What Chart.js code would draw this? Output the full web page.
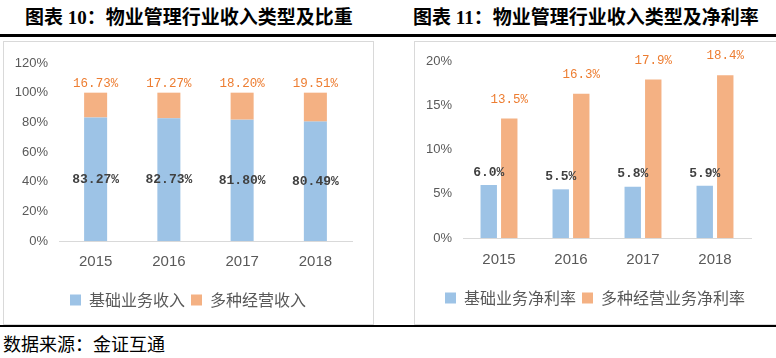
<!DOCTYPE html>
<html><head><meta charset="utf-8">
<script src="https://cdn.jsdelivr.net/npm/chart.js@4.4.0/dist/chart.umd.min.js"></script>
<style>
html,body{margin:0;padding:0;background:#fff;width:776px;height:358px;overflow:hidden;position:relative;}
.t{position:absolute;top:7px;font:bold 19px "Liberation Serif","Noto Sans CJK SC";line-height:22px;white-space:nowrap;color:#000;}
.rule{position:absolute;left:0;width:776px;height:2px;background:#000;}
.box{position:absolute;top:41px;height:284px;border:1px solid #D9D9D9;box-sizing:border-box;}
canvas{position:absolute;}
.src{position:absolute;left:3px;top:332px;font:18px "Noto Sans CJK SC";line-height:22px;color:#000;white-space:nowrap;}
</style></head>
<body>
<div class="t" style="left:25px">图表 10：物业管理行业收入类型及比重</div>
<div class="t" style="left:413px">图表 11：物业管理行业收入类型及净利率</div>
<div class="rule" style="top:34px;height:3px"></div>
<div class="box" style="left:3px;width:371px"></div>
<div class="box" style="left:414px;width:370px"></div>
<div class="rule" style="top:325px"></div>
<canvas id="c1" width="370" height="283" style="left:3px;top:41px"></canvas>
<canvas id="c2" width="362" height="283" style="left:414px;top:41px"></canvas>
<div class="src">数据来源：金证互通</div>
<script>
const years = ['2015', '2016', '2017', '2018'];
const baseShare = [83.27, 82.73, 81.80, 80.49];
const diversShare = [16.73, 17.27, 18.20, 19.51];
const baseMargin = [6.0, 5.5, 5.8, 5.9];
const diversMargin = [13.5, 16.3, 17.9, 18.4];
const shareNames = ['基础业务收入', '多种经营收入'];
const marginNames = ['基础业务净利率', '多种经营业务净利率'];
const shareAxis = [0, 120, 20];
const marginAxis = [0, 20, 5];

const BLUE = '#9DC3E6', ORANGE = '#F4B183', ORANGE_TXT = '#ED7D31', DARK = '#404040', GRAY = '#595959';

const valueLabels = {
  id: 'valueLabels',
  afterDatasetsDraw(chart) {
    const ctx = chart.ctx;
    chart.data.datasets.forEach((ds, i) => {
      const lab = ds.valueLabel; if (!lab) return;
      const meta = chart.getDatasetMeta(i);
      ctx.save();
      ctx.font = lab.font; ctx.fillStyle = lab.color;
      ctx.textAlign = 'center'; ctx.textBaseline = 'middle';
      meta.data.forEach((el, j) => {
        const v = ds.data[j];
        const y = lab.position === 'center' ? (el.y + el.base) / 2 : el.y - lab.offset;
        ctx.fillText(v.toFixed(lab.decimals) + '%', el.x, y);
      });
      ctx.restore();
    });
  }
};

function makeOptions(o) {
  return {
    responsive: false, animation: false, events: [],
    layout: { padding: { top: o.top, bottom: o.bottom, left: 0, right: 0 } },
    plugins: {
      tooltip: { enabled: false },
      legend: {
        position: 'bottom',
        labels: { boxWidth: 11, boxHeight: 11, padding: 6, color: GRAY,
          font: { family: 'Noto Sans CJK SC', size: 16 } }
      }
    },
    scales: {
      x: {
        stacked: o.stacked,
        grid: { display: false, drawTicks: false },
        border: { display: true, color: '#D9D9D9', width: 1 },
        ticks: { color: GRAY, padding: o.xPad, font: { family: 'Liberation Sans', size: 15 } },
        afterFit: s => { s.height = o.xH; }
      },
      y: {
        stacked: o.stacked,
        min: o.axis[0], max: o.axis[1],
        grid: { display: false, drawTicks: false },
        border: { display: false },
        ticks: { stepSize: o.axis[2], color: GRAY, padding: 11,
          font: { family: 'Liberation Sans', size: 13 },
          callback: v => v + '%' },
        afterFit: s => { s.width = o.yW; }
      },
      yR: {
        position: 'right', display: true,
        grid: { display: false, drawTicks: false },
        border: { display: false },
        ticks: { display: false },
        afterFit: s => { s.width = o.rW; }
      }
    }
  };
}

new Chart(document.getElementById('c1'), {
  type: 'bar',
  data: {
    labels: years,
    datasets: [
      { label: shareNames[0], data: baseShare, backgroundColor: BLUE, borderWidth: 0,
        categoryPercentage: 0.8, barPercentage: 0.393,
        valueLabel: { position: 'center', font: 'bold 13px "Liberation Mono"', color: DARK, decimals: 2 } },
      { label: shareNames[1], data: diversShare, backgroundColor: ORANGE, borderWidth: 0,
        categoryPercentage: 0.8, barPercentage: 0.393,
        valueLabel: { position: 'top', offset: 9, font: '12.5px "Liberation Mono"', color: ORANGE_TXT, decimals: 2 } }
    ]
  },
  options: makeOptions({ top: 22, bottom: 6, stacked: true, xPad: 12, xH: 45, axis: shareAxis, yW: 56, rW: 21 }),
  plugins: [valueLabels]
});

new Chart(document.getElementById('c2'), {
  type: 'bar',
  data: {
    labels: years,
    datasets: [
      { label: marginNames[0], data: baseMargin, backgroundColor: BLUE, borderWidth: 0,
        categoryPercentage: 0.57, barPercentage: 0.8,
        valueLabel: { position: 'top', offset: 12.5, font: 'bold 13px "Liberation Mono"', color: DARK, decimals: 1 } },
      { label: marginNames[1], data: diversMargin, backgroundColor: ORANGE, borderWidth: 0,
        categoryPercentage: 0.57, barPercentage: 0.8,
        valueLabel: { position: 'top', offset: 19, font: '12.5px "Liberation Mono"', color: ORANGE_TXT, decimals: 1 } }
    ]
  },
  options: makeOptions({ top: 20, bottom: 8, stacked: false, xPad: 13, xH: 46, axis: marginAxis, yW: 49, rW: 25 }),
  plugins: [valueLabels]
});
</script>
</body></html>
